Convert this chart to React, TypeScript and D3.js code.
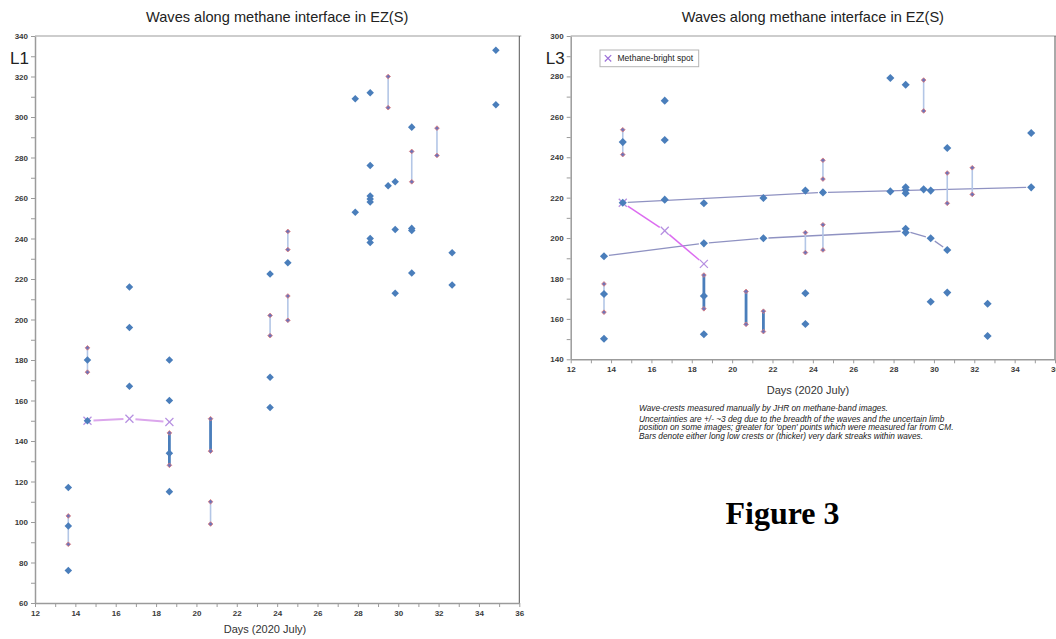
import React, { useRef, useEffect } from "react";
import * as d3 from "d3";

const chartTitle = "Waves along methane interface in EZ(S)";
const xTitle = "Days (2020 July)";

// L1 panel: [day, longitude]
const l1Crests = [
  [13.65, 117], [13.65, 98], [13.65, 76],
  [14.6, 180], [14.6, 150],
  [16.68, 216], [16.68, 196], [16.68, 167],
  [18.66, 180], [18.66, 160], [18.66, 134], [18.66, 115],
  [23.65, 222.5], [23.65, 171.5], [23.65, 156.5],
  [24.53, 228],
  [27.87, 309], [27.87, 253],
  [28.61, 312], [28.61, 276], [28.61, 261], [28.61, 259.5], [28.61, 258], [28.61, 240], [28.61, 238],
  [29.5, 266],
  [29.85, 268], [29.85, 244.5], [29.85, 213],
  [30.67, 295], [30.67, 245], [30.67, 244], [30.67, 223],
  [32.67, 233], [32.67, 217],
  [34.84, 333], [34.84, 306],
];
// [day, low, high]
const l1ThinBars = [
  [13.65, 89, 103], [14.6, 174, 186], [20.7, 99, 110], [23.65, 192, 202],
  [24.53, 234.5, 243.5], [24.53, 199.6, 211.6], [29.5, 304.6, 320],
  [30.67, 268, 283], [31.92, 281, 294.5],
];
const l1ThickBars = [[18.66, 128, 144], [20.7, 135, 151]];
const l1Bright = [[14.6, 150], [16.68, 151], [18.66, 149.4]];

// L3 panel
const l3Crests = [
  [13.65, 191], [13.65, 172.3], [13.65, 150.2],
  [14.58, 247.5], [14.58, 217.5],
  [16.66, 268], [16.66, 248.5], [16.66, 219],
  [18.6, 217.2], [18.6, 197.4], [18.6, 171.3], [18.6, 152.4],
  [21.55, 219.8], [21.55, 199.9],
  [23.63, 223.5], [23.63, 172.7], [23.63, 157.5],
  [24.5, 222.6],
  [27.84, 279.2], [27.84, 223.1],
  [28.6, 275.9], [28.6, 225.1], [28.6, 223.8], [28.6, 222.2], [28.6, 204.6], [28.6, 202.7],
  [29.49, 224.1],
  [29.84, 223.5], [29.84, 199.9], [29.84, 168.5],
  [30.66, 244.6], [30.66, 194.1], [30.66, 173],
  [32.66, 167.5], [32.66, 151.5],
  [34.82, 252], [34.82, 225.1],
];
const l3ThinBars = [
  [13.65, 163.3, 177.3], [14.58, 241.3, 253.6], [23.63, 192.8, 202.7],
  [24.5, 194.1, 206.6], [24.5, 229.2, 238.5], [29.49, 262.9, 278.2],
  [30.66, 217.2, 232.2], [31.9, 221.6, 234.8],
];
const l3ThickBars = [[18.6, 165, 181.7], [20.69, 157.3, 173.6], [21.55, 153.7, 163.8]];
const l3Bright = [[14.58, 217.5], [16.66, 203.6], [18.6, 187.2]];
const l3UpperTrack = [[14.58, 217.5], [24.5, 222.6], [34.82, 225.1]];
const l3LowerTrack = [[13.65, 191.1], [18.6, 197.4], [21.55, 199.9], [28.6, 203.5], [29.84, 199.9], [30.66, 194.1]];

const captionLines = [
  "Wave-crests measured manually by JHR on methane-band images.",
  "Uncertainties are +/- ~3 deg due to the breadth of the waves and the uncertain limb",
  "position on some images; greater for 'open' points which were measured far from CM.",
  "Bars denote either long low crests or (thicker) very dark streaks within waves.",
];

const BLUE = "#4a7ebb";
const FONT = "'Liberation Sans', Arial, sans-serif";

// line pieces between points, leaving a gap round each marker
const gapped = (pts, xs, ys, gap) => {
  const out = [];
  for (let i = 0; i < pts.length - 1; i++) {
    const x1 = xs(pts[i][0]), y1 = ys(pts[i][1]);
    const x2 = xs(pts[i + 1][0]), y2 = ys(pts[i + 1][1]);
    const len = Math.hypot(x2 - x1, y2 - y1);
    if (len <= gap * 2) continue;
    const ux = (x2 - x1) / len, uy = (y2 - y1) / len;
    out.push([x1 + ux * gap, y1 + uy * gap, x2 - ux * gap, y2 - uy * gap]);
  }
  return out;
};

const Cross = ({ x, y, r, color }) => (
  <g stroke={color} strokeWidth={1.2}>
    <line x1={x - r} y1={y - r} x2={x + r} y2={y + r} />
    <line x1={x - r} y1={y + r} x2={x + r} y2={y - r} />
  </g>
);

const Panel = (props) => {
  const { left, right, top, bottom, yDomain, name, crests, thinBars, thickBars, bright, brightColor,
    brightWidth, tracks, markerSize, titleSize, xTitleX, xTitleY } = props;
  const xAxisRef = useRef(null);
  const yAxisRef = useRef(null);

  const xScale = d3.scaleLinear().domain([12, 36]).range([left, right]);
  const yScale = d3.scaleLinear().domain(yDomain).range([bottom, top]);

  useEffect(() => {
    const xAxis = d3.axisBottom(xScale)
      .tickValues(d3.range(12, 37, 1))
      .tickFormat(d => (d % 2 === 0 ? d : ""))
      .tickSize(4).tickSizeOuter(0).tickPadding(3);
    const yAxis = d3.axisLeft(yScale)
      .tickValues(d3.range(yDomain[0], yDomain[1] + 1, 10))
      .tickFormat(d => (d % 20 === 0 ? d : ""))
      .tickSize(4).tickSizeOuter(0).tickPadding(3);
    [[xAxisRef, xAxis], [yAxisRef, yAxis]].forEach(([ref, axis]) => {
      const g = d3.select(ref.current);
      g.call(axis);
      g.select(".domain").attr("stroke", "#9b9b9b").attr("stroke-width", 1.5);
      g.selectAll(".tick line").attr("stroke", "#9b9b9b").attr("stroke-width", 1);
      g.selectAll(".tick text")
        .attr("font-family", FONT).attr("font-size", 8)
        .attr("font-weight", "bold").attr("fill", "#3a3a3a");
    });
  }, []);

  const diamond = d3.symbol(d3.symbolDiamond2, markerSize)();
  const endMark = d3.symbol(d3.symbolDiamond2, 14)();
  const ends = [...thinBars, ...thickBars].flatMap(b => [[b[0], b[1]], [b[0], b[2]]]);

  return (
    <g>
      <text x={(left + right) / 2} y={22} textAnchor="middle" fontFamily={FONT} fontSize={titleSize} fill="#222">
        {chartTitle}
      </text>
      <line x1={left} y1={top} x2={right + 2} y2={top} stroke="#bcbcbc" strokeWidth={1.5} />
      <line x1={right} y1={top} x2={right} y2={bottom} stroke="#555" strokeWidth={1} />
      <g ref={xAxisRef} transform={`translate(0,${bottom})`} />
      <g ref={yAxisRef} transform={`translate(${left},0)`} />
      <text x={left - 25} y={64} fontFamily={FONT} fontSize={17} fill="#222">{name}</text>
      <text x={xTitleX} y={xTitleY} textAnchor="middle" fontFamily={FONT} fontSize={11} fill="#333">{xTitle}</text>

      {tracks.map((t, i) => (
        <g key={"t" + i} stroke="#8f92c2" strokeWidth={1.3}>
          {gapped(t, xScale, yScale, 5).map((s, j) => (
            <line key={j} x1={s[0]} y1={s[1]} x2={s[2]} y2={s[3]} />
          ))}
        </g>
      ))}
      {thinBars.map((b, i) => (
        <line key={"b" + i} x1={xScale(b[0])} x2={xScale(b[0])} y1={yScale(b[1])} y2={yScale(b[2])}
          stroke="#b3c6e6" strokeWidth={1.6} />
      ))}
      {thickBars.map((b, i) => (
        <line key={"k" + i} x1={xScale(b[0])} x2={xScale(b[0])} y1={yScale(b[1])} y2={yScale(b[2])}
          stroke={BLUE} strokeWidth={2.8} />
      ))}
      <g stroke={brightColor} strokeWidth={brightWidth}>
        {gapped(bright, xScale, yScale, 6).map((s, j) => (
          <line key={j} x1={s[0]} y1={s[1]} x2={s[2]} y2={s[3]} />
        ))}
      </g>
      {bright.map((p, i) => (
        <Cross key={"x" + i} x={xScale(p[0])} y={yScale(p[1])} r={4} color="#b58ee0" />
      ))}
      {crests.map((p, i) => (
        <path key={"c" + i} d={diamond} transform={`translate(${xScale(p[0])},${yScale(p[1])})`} fill={BLUE} />
      ))}
      {ends.map((p, i) => (
        <path key={"e" + i} d={endMark} transform={`translate(${xScale(p[0])},${yScale(p[1])})`}
          fill="#6f74b8" stroke="#e07a7a" strokeWidth={0.8} />
      ))}
    </g>
  );
};

const App = () => {
  return (
    <svg width={1056} height={639} style={{ position: "absolute", left: 0, top: 0, background: "#fff" }}>
      <rect width={1056} height={639} fill="#fff" />
      <Panel left={35} right={519.3} top={36} bottom={603} yDomain={[60, 340]} name="L1"
        crests={l1Crests} thinBars={l1ThinBars} thickBars={l1ThickBars} bright={l1Bright}
        brightColor="#dba6ec" brightWidth={2} tracks={[]} markerSize={36} titleSize={14.6}
        xTitleX={265} xTitleY={633} />
      <Panel left={570.7} right={1055} top={36} bottom={359.3} yDomain={[140, 300]} name="L3"
        crests={l3Crests} thinBars={l3ThinBars} thickBars={l3ThickBars} bright={l3Bright}
        brightColor="#dc6cf0" brightWidth={1.5} tracks={[l3UpperTrack, l3LowerTrack]} markerSize={42}
        titleSize={14.6} xTitleX={808} xTitleY={394} />

      <g>
        <rect x={600} y={50} width={98.7} height={16.7} fill="#fff" stroke="#b5b5b5" strokeWidth={1} />
        <Cross x={608} y={58.3} r={3.2} color="#9b6fd8" />
        <text x={617.5} y={61.3} fontFamily={FONT} fontSize={8.5} fill="#222">Methane-bright spot</text>
      </g>

      <g fontFamily={FONT} fontSize={8.3} fontStyle="italic" fill="#222">
        {captionLines.map((t, i) => (
          <text key={i} x={639} y={[410.5, 422, 430, 439.3][i]}>{t}</text>
        ))}
      </g>
      <text x={782.5} y={524} textAnchor="middle" fontFamily="'Liberation Serif', 'Times New Roman', serif"
        fontSize={32} fontWeight="bold" fill="#000">Figure 3</text>
    </svg>
  );
};

export default App;
